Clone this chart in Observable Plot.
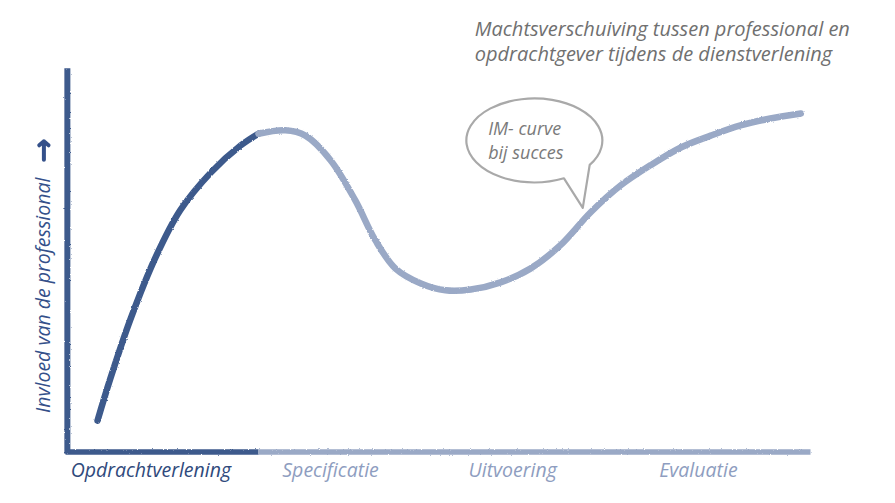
<!DOCTYPE html>
<html>
<head>
<meta charset="utf-8">
<script src="https://cdn.jsdelivr.net/npm/d3@7"></script>
<script src="https://cdn.jsdelivr.net/npm/@observablehq/plot@0.6"></script>
<style>
  html, body { margin: 0; padding: 0; background: #fff; }
  #chart svg { display: block; }
</style>
</head>
<body>
<div id="chart"></div>
<script>
// ---- data ----
const curveX = [4.3, 6.0, 8.7, 12.1, 15.4, 19.5, 23.5, 25.9, 29.5, 32.2, 35.6, 38.9, 41.6, 44.3, 47.7, 51.0, 54.4, 58.4, 62.4, 66.4, 70.5, 74.5, 78.5, 82.6, 86.6, 90.6, 94.6, 98.7];
const curveY = [8.1, 19.0, 34.6, 51.0, 63.3, 73.2, 80.3, 83.4, 84.3, 82.9, 76.4, 65.9, 55.4, 48.0, 44.1, 42.3, 42.5, 44.4, 48.0, 54.1, 62.8, 69.8, 75.1, 79.8, 82.9, 85.6, 87.4, 88.7];
const activeEnd = 25.9; // end of highlighted phase
const phases = ["Opdrachtverlening", "Specificatie", "Uitvoering", "Evaluatie"];
const phaseLabelX = [0.7, 29.1, 54.1, 79.7];
const yLabel = "Invloed van de professional";
const titleLines = ["Machtsverschuiving tussen professional en", "opdrachtgever tijdens de dienstverlening"];
const bubbleLines = ["IM- curve", "bij succes"];

// ---- colours ----
const dark = "#3d5a8c";
const light = "#9aa9c6";
const FONT = "'Open Sans', 'DejaVu Sans', sans-serif";

const curve = [];
curveX.forEach((x, i) => {
  if (x <= activeEnd) curve.push({x, y: curveY[i], seg: "active"});
  if (x >= activeEnd) curve.push({x, y: curveY[i], seg: "rest"});
});
const axisSegs = [
  {x1: 0, x2: activeEnd, seg: "active"},
  {x1: activeEnd, x2: 100, seg: "rest"}
];
const labels = phases.map((p, i) => ({p, x: phaseLabelX[i], seg: i === 0 ? "active" : "rest"}));

const plot = Plot.plot({
  width: 895,
  height: 503,
  marginLeft: 65,
  marginRight: 85,
  marginTop: 70,
  marginBottom: 52,
  x: {domain: [0, 100], axis: null},
  y: {domain: [0, 100], axis: null},
  color: {domain: ["active", "rest"], range: [dark, light]},
  style: {fontFamily: FONT, background: "#fff"},
  marks: [
    // x axis (two-tone)
    Plot.link(axisSegs, {x1: "x1", x2: "x2", y1: -0.1, y2: -0.1, stroke: "seg", strokeWidth: 5.5, strokeLinecap: "butt", className: "rough"}),
    // y axis
    Plot.link([0], {x1: 0.25, x2: 0.25, y1: -0.6, y2: 100.6, stroke: dark, strokeWidth: 6, strokeLinecap: "butt", className: "rough"}),
    // curve
    Plot.line(curve, {x: "x", y: "y", z: "seg", stroke: "seg", strokeWidth: 6.5, curve: "catmull-rom", strokeLinecap: "round", className: "rough"}),
    // phase labels
    Plot.text(labels, {x: "x", y: 0, text: "p", fill: d => d.seg === "active" ? "#2f4a7c" : "#8e9dc0", textAnchor: "start", dy: 19, fontSize: 19.5, fontStyle: "italic"}),
    // y label with arrow
    Plot.text([yLabel], {x: -2.9, y: 41, text: d => d, rotate: -90, fill: "#34508a", fontSize: 19.5, fontStyle: "italic"}),
    Plot.arrow([0], {x1: -2.9, x2: -2.9, y1: 76.6, y2: 81.4, stroke: "#34508a", strokeWidth: 4, headLength: 9, headAngle: 100})
  ]
});

document.getElementById("chart").appendChild(plot);

const svg = d3.select(plot);
const sx = plot.scale("x"), sy = plot.scale("y");

// title lines, positioned through the plot scales
const tt = svg.append("g").attr("font-family", FONT).attr("font-style", "italic").attr("font-size", 20)
  .attr("fill", "#707070").attr("text-anchor", "start");
titleLines.forEach((line, i) => {
  tt.append("text").attr("x", sx.apply(55.0)).attr("y", sy.apply(110.5) + i * 25).attr("dy", "0.32em").text(line);
});

// subtle hand-drawn roughness on the strokes
const defs = svg.insert("defs", ":first-child");
const f = defs.append("filter").attr("id", "roughen").attr("filterUnits", "userSpaceOnUse")
  .attr("x", 0).attr("y", 0).attr("width", 895).attr("height", 503);
f.append("feTurbulence").attr("type", "fractalNoise").attr("baseFrequency", 0.9).attr("numOctaves", 2).attr("result", "n");
f.append("feDisplacementMap").attr("in", "SourceGraphic").attr("in2", "n").attr("scale", 2.2).attr("xChannelSelector", "R").attr("yChannelSelector", "G");
svg.selectAll("g.rough").attr("filter", "url(#roughen)");

// speech bubble (annotation), positioned in data units through the plot scales
const cx = sx.apply(63.0), cy = sy.apply(81.5);
const rx = 68, ry = 42;
const tipX = sx.apply(69.5), tipY = sy.apply(63.8);
const a1 = 0.62, a2 = 1.12; // angles (svg y-down) where the tail leaves the ellipse
const p1 = [cx + rx * Math.cos(a1), cy + ry * Math.sin(a1)];
const p2 = [cx + rx * Math.cos(a2), cy + ry * Math.sin(a2)];
const d = `M${p1[0]},${p1[1]} A${rx},${ry} 0 1 0 ${p2[0]},${p2[1]} L${tipX},${tipY} Z`;
svg.append("path").attr("d", d).attr("fill", "#fff").attr("stroke", "#a9a9a9").attr("stroke-width", 2.2).attr("stroke-linejoin", "round");
const bt = svg.append("text").attr("font-family", FONT).attr("font-style", "italic").attr("font-size", 18)
  .attr("fill", "#7a7a7a").attr("text-anchor", "start");
bubbleLines.forEach((line, i) => {
  bt.append("tspan").attr("x", sx.apply(56.8)).attr("y", sy.apply(83.0) + i * 24).text(line);
});
</script>
</body>
</html>
